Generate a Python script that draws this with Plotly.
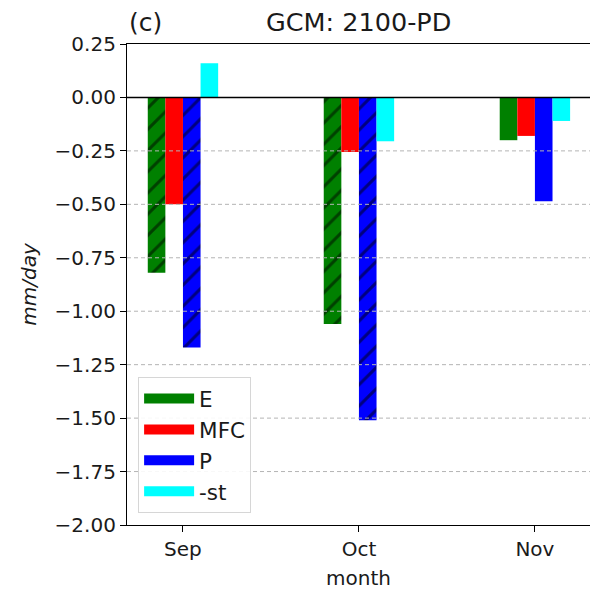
import plotly.graph_objects as go

months = ["Sep", "Oct", "Nov"]
series_names = ["E", "MFC", "P", "-st"]
E = [-0.82, -1.06, -0.20]
MFC = [-0.50, -0.255, -0.18]
P = [-1.17, -1.51, -0.485]
ST = [0.16, -0.205, -0.11]
hatch_E = ["/", "/", ""]
hatch_P = ["/", "/", ""]
hatch_MFC = ["", "", ""]
hatch_ST = ["", "", ""]
yticks = [0.25, 0.0, -0.25, -0.5, -0.75, -1.0, -1.25, -1.5, -1.75, -2.0]

colors = ["green", "red", "blue", "cyan"]
values = [E, MFC, P, ST]
hatches = [hatch_E, hatch_MFC, hatch_P, hatch_ST]

FONT = "DejaVu Sans"
TXT = "#1a1a1a"
xpos = list(range(len(months)))
W = 0.1

fig = go.Figure()
for i, (name, vals, col, hat) in enumerate(zip(series_names, values, colors, hatches)):
    fig.add_trace(go.Bar(
        x=xpos, y=vals, name=name, showlegend=False,
        width=W, offset=-2 * W + i * W,
        marker=dict(color=col, line=dict(width=0),
                    pattern=dict(shape=hat, fgcolor="black", size=15, solidity=0.2)),
    ))
# legend-only entries (solid wide swatches)
for name, col in zip(series_names, colors):
    fig.add_trace(go.Scatter(x=[None], y=[None], name=name, mode="lines",
                             line=dict(color=col, width=15)))

shapes = []
for t in yticks:
    if t in (0.25, -2.0, 0.0):
        continue
    shapes.append(dict(type="line", xref="paper", x0=0, x1=1, yref="y", y0=t, y1=t,
                       line=dict(color="#b4b4b4", width=1, dash="4px,3px"), layer="above"))
shapes.append(dict(type="line", xref="paper", x0=0, x1=1, yref="y", y0=0, y1=0,
                   line=dict(color="black", width=1.5), layer="above"))

fig.update_layout(
    width=590, height=593,
    margin=dict(l=127, r=0, t=44, b=68),
    paper_bgcolor="white", plot_bgcolor="white",
    barmode="overlay",
    font=dict(family=FONT, size=20, color=TXT),
    shapes=shapes,
    legend=dict(x=0.024, y=0.025, xanchor="left", yanchor="bottom",
                bordercolor="#d6d6d6", borderwidth=1, bgcolor="rgba(255,255,255,0.9)",
                font=dict(family=FONT, size=21.5, color=TXT), tracegroupgap=0,
                itemwidth=50),
    annotations=[
        dict(text="GCM: 2100-PD", xref="paper", yref="paper", x=0.5, y=1.0, yshift=5,
             xanchor="center", yanchor="bottom", showarrow=False, font=dict(family=FONT, size=25.5, color=TXT)),
        dict(text="(c)", xref="paper", yref="paper", x=0.0, y=1.0, yshift=5,
             xanchor="left", yanchor="bottom", showarrow=False, font=dict(family=FONT, size=25, color=TXT)),
    ],
)
fig.update_xaxes(
    range=[-0.318, 2.313], tickvals=xpos, ticktext=months, automargin=False,
    showline=True, linecolor="black", linewidth=1.2, mirror=True,
    ticks="outside", ticklen=6, tickcolor="black", showgrid=False, zeroline=False,
    tickfont=dict(family=FONT, size=20, color=TXT),
    title=dict(text="month", font=dict(family=FONT, size=20, color=TXT), standoff=10),
)
fig.update_yaxes(
    range=[-2.0, 0.25], tickvals=yticks, tickformat=".2f", automargin=False,
    showline=True, linecolor="black", linewidth=1.2, mirror=False,
    ticks="outside", ticklen=6, tickcolor="black", showgrid=False, zeroline=False,
    tickfont=dict(family=FONT, size=20, color=TXT),
    title=dict(text="<i>mm/day</i>", font=dict(family=FONT, size=20, color=TXT), standoff=12),
)

fig.write_html("out.html", config={"displayModeBar": False},
               post_script="document.body.style.margin='0px';document.body.style.overflow='hidden';")
